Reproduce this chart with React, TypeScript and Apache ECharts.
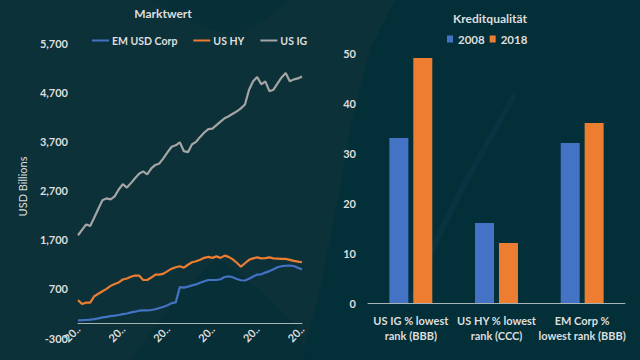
import React, { useEffect, useRef } from "react";
import * as echarts from "echarts";

// ---- Left chart: Marktwert (USD Billions), one point every 4 months ----
const startYear = 2000;
const pointCount = 56;
const periods: string[] = [];
for (let i = 0; i < pointCount; i++) {
  const m = i * 4;
  const y = startYear + Math.floor(m / 12);
  const mm = (m % 12) + 1;
  periods.push(`${y}-${mm < 10 ? "0" + mm : mm}`);
}

const emUsdCorp = [
  60, 62, 66, 73, 85, 100, 118, 130, 145, 155, 168, 185, 198, 220, 235, 255, 260, 262, 270, 285,
  310, 335, 365, 410, 425, 735, 725, 745, 770, 790, 825, 855, 880, 880, 880, 895, 940, 955, 935, 900,
  875, 870, 905, 950, 990, 995, 1030, 1060, 1100, 1140, 1160, 1170, 1175, 1165, 1130, 1095,
];
const usHy = [
  470, 390, 420, 420, 550, 600, 650, 700, 760, 800, 830, 890, 910, 945, 970, 970, 880, 880, 930, 990,
  990, 1010, 1060, 1110, 1140, 1160, 1130, 1190, 1240, 1260, 1290, 1330, 1350, 1330, 1360, 1330, 1375, 1350, 1300, 1230,
  1150, 1220, 1290, 1320, 1340, 1320, 1325, 1340, 1320, 1315, 1310, 1310, 1290, 1270, 1255, 1240,
];
const usIg = [
  1790, 1900, 2010, 1980, 2150, 2330, 2500, 2540, 2520, 2580, 2720, 2830, 2760, 2850, 2950, 3040, 3090, 3030, 3150, 3220,
  3250, 3360, 3480, 3590, 3620, 3680, 3500, 3480, 3640, 3690, 3790, 3880, 3950, 3960, 4030, 4100, 4170, 4210, 4260, 4310,
  4370, 4450, 4750, 4920, 5010, 4860, 4920, 4720, 4750, 4880, 5000, 5090, 4920, 4960, 4980, 5020,
];
const leftSeriesNames = ["EM USD Corp", "US HY", "US IG"];

// ---- Right chart: Kreditqualität ----
const qualityCategories = ["US IG % lowest\nrank (BBB)", "US HY % lowest\nrank (CCC)", "EM Corp %\nlowest rank (BBB)"];
const q2008 = [33, 16, 32];
const q2018 = [49, 12, 36];

const FONT = "Lato, 'Open Sans', sans-serif";
const TEXT = "#dedede";
const BLUE = "#4472c4";
const ORANGE = "#ed7d31";
const GREY = "#a5a5a5";

export default function App() {
  const ref = useRef<HTMLDivElement>(null);
  useEffect(() => {
    document.body.style.margin = "0";
    const chart = echarts.init(ref.current!, undefined, { renderer: "svg" });
    const bgShapes = [
      { type: "polygon", z: -10, shape: { points: [[395, 0], [640, 0], [640, 360], [300, 360], [318, 300], [338, 200], [352, 120], [370, 50]] }, style: { fill: "#032f38" } },
      { type: "polygon", z: -9, shape: { points: [[513, 92], [517, 96], [470, 180], [440, 240], [412, 305], [405, 306], [433, 240], [463, 180]] }, style: { fill: "#073440" } },
      { type: "polygon", z: -10, shape: { points: [[150, 0], [290, 0], [262, 22], [238, 34], [210, 30], [185, 18]] }, style: { fill: "#062f38" } },
      { type: "polygon", z: -10, shape: { points: [[130, 360], [175, 300], [218, 258], [260, 290], [300, 330], [305, 360]] }, style: { fill: "#072f38" } },
    ];
    chart.setOption({
      animation: false,
      backgroundColor: "#0d3139",
      textStyle: { fontFamily: FONT },
      graphic: bgShapes,
      title: [
        { text: "Marktwert", left: 158, top: 2, textAlign: "center", textStyle: { color: TEXT, fontSize: 12, fontWeight: "bold", fontFamily: FONT } },
        { text: "Kreditqualität", left: 485, top: 7, textAlign: "center", textStyle: { color: TEXT, fontSize: 12, fontWeight: "bold", fontFamily: FONT } },
      ],
      legend: [
        {
          data: leftSeriesNames,
          left: 92,
          top: 35,
          padding: 0,
          icon: "rect",
          itemWidth: 17,
          itemHeight: 2,
          itemGap: 16,
          textStyle: { color: TEXT, fontSize: 10.5, fontWeight: "bold", padding: [0, 0, 0, -2], fontFamily: FONT },
        },
        {
          data: ["2008", "2018"],
          left: 447,
          top: 33,
          padding: 0,
          icon: "rect",
          itemWidth: 6,
          itemHeight: 7,
          itemGap: 5,
          textStyle: { color: TEXT, fontSize: 11.5, fontWeight: "bold", fontFamily: FONT },
        },
      ],
      grid: [
        { left: 78, right: 338, top: 43, bottom: 22 },
        { left: 368, right: 15, top: 53, bottom: 57 },
      ],
      xAxis: [
        {
          type: "category",
          gridIndex: 0,
          data: periods,
          boundaryGap: false,
          axisLine: { onZero: true, lineStyle: { color: "#a6b4b6", width: 1 } },
          axisTick: { show: false },
          axisLabel: {
            interval: 10,
            rotate: 45,
            color: TEXT,
            fontSize: 11,
            fontWeight: "bold",
            margin: -11,
            formatter: (v: string) => v.slice(0, 2) + "..",
          },
        },
        {
          type: "category",
          gridIndex: 1,
          data: qualityCategories,
          axisLine: { lineStyle: { color: "#a6b4b6", width: 1 } },
          axisTick: { show: false },
          axisLabel: { color: TEXT, fontSize: 11, fontWeight: "bold", lineHeight: 15, margin: 10, interval: 0 },
        },
      ],
      yAxis: [
        {
          type: "value",
          gridIndex: 0,
          min: -300,
          max: 5700,
          interval: 1000,
          name: "USD Billions",
          nameLocation: "middle",
          nameGap: 50,
          nameTextStyle: { color: TEXT, fontSize: 11, fontFamily: FONT, padding: [0, 0, 0, 8] },
          axisLine: { show: false },
          axisTick: { show: false },
          splitLine: { show: false },
          axisLabel: {
            color: TEXT,
            fontSize: 11,
            fontWeight: "bold",
            margin: 10,
            formatter: (v: number) => v.toLocaleString("en-US"),
          },
        },
        {
          type: "value",
          gridIndex: 1,
          min: 0,
          max: 50,
          interval: 10,
          axisLine: { show: false },
          axisTick: { show: false },
          splitLine: { show: false },
          axisLabel: { color: TEXT, fontSize: 11, fontWeight: "bold", margin: 12 },
        },
      ],
      series: [
        { name: "EM USD Corp", type: "line", xAxisIndex: 0, yAxisIndex: 0, data: emUsdCorp, showSymbol: false, lineStyle: { color: BLUE, width: 2.2 }, itemStyle: { color: BLUE } },
        { name: "US HY", type: "line", xAxisIndex: 0, yAxisIndex: 0, data: usHy, showSymbol: false, lineStyle: { color: ORANGE, width: 2.2 }, itemStyle: { color: ORANGE } },
        { name: "US IG", type: "line", xAxisIndex: 0, yAxisIndex: 0, data: usIg, showSymbol: false, lineStyle: { color: GREY, width: 2.2 }, itemStyle: { color: GREY } },
        { name: "2008", type: "bar", xAxisIndex: 1, yAxisIndex: 1, data: q2008, barWidth: 19, barGap: "26%", itemStyle: { color: BLUE } },
        { name: "2018", type: "bar", xAxisIndex: 1, yAxisIndex: 1, data: q2018, barWidth: 19, barGap: "26%", itemStyle: { color: ORANGE } },
      ],
    });
    return () => chart.dispose();
  }, []);
  return <div ref={ref} style={{ width: 640, height: 360 }} />;
}
